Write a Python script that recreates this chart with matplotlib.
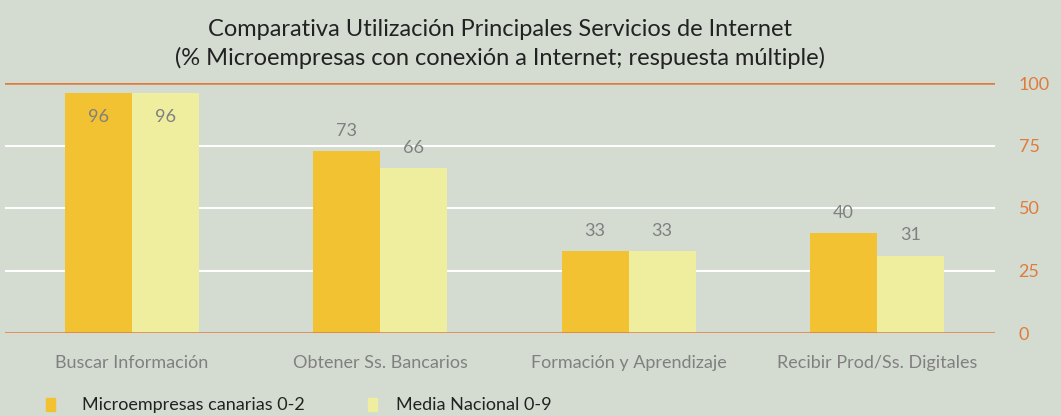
import matplotlib
matplotlib.use("Agg")
import matplotlib.pyplot as plt
import numpy as np
from matplotlib.patches import Rectangle

categories = ["Buscar Información", "Obtener Ss. Bancarios", "Formación y Aprendizaje", "Recibir Prod/Ss. Digitales"]
canarias = [96, 73, 33, 40]
nacional = [96, 66, 33, 31]
series_names = ["Microempresas canarias 0-2", "Media Nacional 0-9"]
yticks = [0, 25, 50, 75, 100]

BG = "#d4dcd1"
C1 = "#f2c232"
C2 = "#eeee9e"
ORANGE = "#e07b3c"
GRAY = "#808080"

plt.rcParams['font.family'] = ['Lato', 'DejaVu Sans']

fig = plt.figure(figsize=(10.61, 4.16), dpi=100, facecolor=BG)
ax = fig.add_axes([5/1061, 1-333/416, 990/1061, 250/416])
ax.set_facecolor(BG)

x = np.arange(len(categories))
w = 0.27
ax.bar(x - w/2, canarias, w, color=C1, zorder=3)
ax.bar(x + w/2, nacional, w, color=C2, zorder=3)

for xs, vals in [(x - w/2, canarias), (x + w/2, nacional)]:
    for xi, v in zip(xs, vals):
        y = v - 9.5 if v > 90 else v + 8
        ax.text(xi, y, str(v), ha='center', va='center', color=GRAY, fontsize=13, zorder=4)

ax.set_xlim(-0.511, 3.475)
ax.set_ylim(0, 100)
for t in [25, 50, 75]:
    ax.axhline(t, color='white', lw=1.5, zorder=1)
for t in [0, 100]:
    ax.axhline(t, color=ORANGE, lw=1.8, zorder=5)

for s in ax.spines.values():
    s.set_visible(False)
ax.set_xticks(x)
ax.set_xticklabels(categories, color=GRAY, fontsize=13)
ax.tick_params(axis='x', length=0, pad=16)
ax.yaxis.tick_right()
ax.set_yticks(yticks)
ax.set_yticklabels([str(t) for t in yticks], color=ORANGE, fontsize=13)
ax.tick_params(axis='y', length=0, pad=17)

fig.text(500/1061, 1-30/416, "Comparativa Utilización Principales Servicios de Internet",
         ha='center', va='center', fontsize=17, color='#222222')
fig.text(500/1061, 1-58/416, "(% Microempresas con conexión a Internet; respuesta múltiple)",
         ha='center', va='center', fontsize=17, color='#222222')

# legend
for (lx, tx, col, name) in [(46, 82, C1, series_names[0]), (368, 396, C2, series_names[1])]:
    fig.patches.append(Rectangle((lx/1061, 1-411/416), 9/1061, 13/416,
                                 transform=fig.transFigure, color=col))
    fig.text(tx/1061, 1-405/416, name, ha='left', va='center', fontsize=13, color='#222222')

fig.savefig("out.png", dpi=100, facecolor=BG)
